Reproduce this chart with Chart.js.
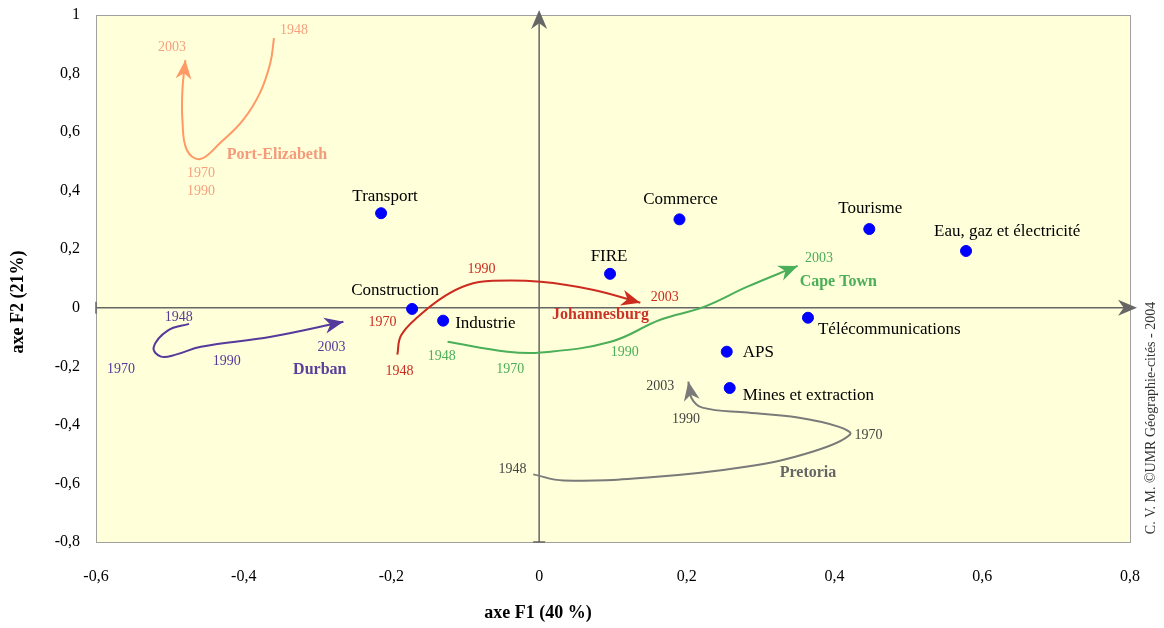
<!DOCTYPE html>
<html>
<head>
  <title>AFC villes sud-africaines</title>
  <script src="https://cdn.jsdelivr.net/npm/chart.js"></script>
  <style>
    body { margin: 0; background: #fff; }
    #wrap { width: 1164px; height: 628px; }
  </style>
</head>
<body>
  <div id="wrap"><canvas id="myChart" width="1164" height="628"></canvas></div>

  <script>
    // Secteurs (points bleus)
    var secteurs = ['Transport', 'Commerce', 'Tourisme', 'Eau, gaz et électricité', 'FIRE',
                    'Construction', 'Industrie', 'Télécommunications', 'APS', 'Mines et extraction'];
    var secteursF1 = [-0.214, 0.190, 0.447, 0.578, 0.096, -0.172, -0.130, 0.364, 0.254, 0.258];
    var secteursF2 = [0.323, 0.302, 0.269, 0.194, 0.116, -0.004, -0.044, -0.034, -0.150, -0.274];

    // Trajectoires des villes 1948 -> 2003
    var portElizabeth = [[-0.359, 0.921], [-0.364, 0.836], [-0.378, 0.734], [-0.401, 0.641],
                         [-0.432, 0.563], [-0.459, 0.508], [-0.477, 0.539], [-0.483, 0.641],
                         [-0.483, 0.744], [-0.479, 0.846]];
    var durban = [[-0.474, -0.055], [-0.503, -0.078], [-0.522, -0.136], [-0.512, -0.167],
                  [-0.492, -0.160], [-0.458, -0.133], [-0.363, -0.099], [-0.265, -0.048]];
    var johannesburg = [[-0.192, -0.160], [-0.187, -0.095], [-0.164, -0.031], [-0.129, 0.038],
                        [-0.097, 0.078], [-0.063, 0.092], [0.002, 0.089], [0.074, 0.061], [0.137, 0.017]];
    var capeTown = [[-0.124, -0.116], [-0.043, -0.150], [0.002, -0.153], [0.097, -0.116],
                    [0.164, -0.041], [0.223, 0.003], [0.282, 0.072], [0.350, 0.143]];
    var pretoria = [[-0.008, -0.569], [0.033, -0.590], [0.147, -0.580], [0.282, -0.542],
                    [0.371, -0.491], [0.421, -0.433], [0.405, -0.406], [0.350, -0.375],
                    [0.282, -0.358], [0.221, -0.341], [0.206, -0.307], [0.202, -0.252]];

    // Etiquettes des années
    var annees = ['1948', '1970', '1990', '2003'];

    // Couleurs des villes
    var villes = [
      { nom: 'Port-Elizabeth', pts: portElizabeth, ligne: '#FF9966', texte: '#F7A07E', nomTexte: '#F59A7A' },
      { nom: 'Durban', pts: durban, ligne: '#55399B', texte: '#55399B', nomTexte: '#5A3F9C' },
      { nom: 'Johannesburg', pts: johannesburg, ligne: '#CC2B1F', texte: '#CC2B1F', nomTexte: '#CC3328' },
      { nom: 'Cape Town', pts: capeTown, ligne: '#4BAE58', texte: '#4BAE58', nomTexte: '#4BAE58' },
      { nom: 'Pretoria', pts: pretoria, ligne: '#7A7A7A', texte: '#444444', nomTexte: '#666666' }
    ];

    // Placement des annotations (coordonnées dans le plan factoriel), ordre : 1948, 1970, 1990, 2003, nom
    var placements = {
      'Port-Elizabeth': [[-0.332, 0.948], [-0.458, 0.460], [-0.458, 0.399], [-0.497, 0.890], [-0.355, 0.522]],
      'Durban':         [[-0.488, -0.034], [-0.566, -0.211], [-0.423, -0.184], [-0.281, -0.136], [-0.297, -0.211]],
      'Johannesburg':   [[-0.189, -0.218], [-0.212, -0.051], [-0.078, 0.133], [0.170, 0.034], [0.083, -0.024]],
      'Cape Town':      [[-0.132, -0.167], [-0.039, -0.211], [0.116, -0.153], [0.379, 0.170], [0.405, 0.089]],
      'Pretoria':       [[-0.036, -0.552], [0.446, -0.436], [0.199, -0.382], [0.164, -0.269], [0.364, -0.563]]
    };

    // Décalage des étiquettes des secteurs (en pixels)
    var decalages = [
      [4, -17, 'center'], [1, -20, 'center'], [1, -20, 'center'], [-32, -19, 'left'], [-1, -17, 'center'],
      [-17, -18, 'center'], [12, 3, 'left'], [10, 12, 'left'], [16, 1, 'left'], [13, 8, 'left']
    ];

    var serif = '"Liberation Serif", "Times New Roman", serif';

    function virgule(v) {
      var r = Math.round(v * 10) / 10;
      if (r === 0) return '0';
      return String(r).replace('.', ',');
    }

    function fleche(ctx, x0, y0, x1, y1, couleur) {
      var a = Math.atan2(y1 - y0, x1 - x0);
      var L = 19, W = 8;
      ctx.save();
      ctx.translate(x1, y1);
      ctx.rotate(a);
      ctx.fillStyle = couleur;
      ctx.beginPath();
      ctx.moveTo(0, 0);
      ctx.lineTo(-L, -W);
      ctx.lineTo(-L * 0.7, 0);
      ctx.lineTo(-L, W);
      ctx.closePath();
      ctx.fill();
      ctx.restore();
    }

    var decor = {
      id: 'decor',
      beforeDraw: function(chart) {
        var c = chart.ctx, a = chart.chartArea;
        c.save();
        c.fillStyle = '#FFFFDA';
        c.fillRect(a.left, a.top, a.right - a.left, a.bottom - a.top);
        c.strokeStyle = '#A0A0A0';
        c.lineWidth = 1;
        c.strokeRect(a.left + 0.5, a.top + 0.5, a.right - a.left, a.bottom - a.top);
        c.restore();
      },
      beforeDatasetsDraw: function(chart) {
        var c = chart.ctx, a = chart.chartArea;
        var x0 = chart.scales.x.getPixelForValue(0);
        var y0 = chart.scales.y.getPixelForValue(0);
        c.save();
        c.strokeStyle = '#666';
        c.lineWidth = 1.5;
        c.beginPath();
        c.moveTo(x0, a.bottom); c.lineTo(x0, a.top - 2);
        c.moveTo(a.left, y0); c.lineTo(a.right - 4, y0);
        // petites marques
        c.moveTo(a.left, y0 - 6); c.lineTo(a.left, y0 + 6);
        c.moveTo(x0 - 6, a.bottom); c.lineTo(x0 + 6, a.bottom);
        c.moveTo(x0 - 6, y0); c.lineTo(x0 + 6, y0);
        c.moveTo(x0, y0 - 6); c.lineTo(x0, y0 + 6);
        c.stroke();
        c.restore();
        fleche(c, x0, a.bottom, x0, a.top - 5, '#666');
        fleche(c, a.left, y0, a.right + 7, y0, '#666');
      },
      afterDatasetsDraw: function(chart) {
        var c = chart.ctx;
        var sx = chart.scales.x, sy = chart.scales.y;
        c.save();
        // flèches de fin de trajectoire
        villes.forEach(function(v) {
          var n = v.pts.length;
          fleche(c, sx.getPixelForValue(v.pts[n - 2][0]), sy.getPixelForValue(v.pts[n - 2][1]),
                 sx.getPixelForValue(v.pts[n - 1][0]), sy.getPixelForValue(v.pts[n - 1][1]), v.ligne);
        });
        c.textBaseline = 'middle';
        // années et noms de villes
        villes.forEach(function(v) {
          var p = placements[v.nom];
          c.textAlign = 'center';
          c.font = '14px ' + serif;
          c.fillStyle = v.texte;
          annees.forEach(function(an, i) {
            c.fillText(an, sx.getPixelForValue(p[i][0]), sy.getPixelForValue(p[i][1]));
          });
          c.font = 'bold 16px ' + serif;
          c.fillStyle = v.nomTexte;
          c.fillText(v.nom, sx.getPixelForValue(p[4][0]), sy.getPixelForValue(p[4][1]));
        });
        // noms des secteurs
        c.font = '17px ' + serif;
        c.fillStyle = '#000';
        secteurs.forEach(function(s, i) {
          var d = decalages[i];
          c.textAlign = d[2];
          c.fillText(s, sx.getPixelForValue(secteursF1[i]) + d[0], sy.getPixelForValue(secteursF2[i]) + d[1]);
        });
        c.restore();
      },
      afterDraw: function(chart) {
        var c = chart.ctx;
        c.save();
        c.fillStyle = '#000';
        c.textAlign = 'center';
        c.textBaseline = 'middle';
        c.font = 'bold 18px ' + serif;
        c.fillText('axe F1 (40 %)', 538, 613);
        c.translate(18, 302);
        c.rotate(-Math.PI / 2);
        c.fillText('axe F2 (21%)', 0, 0);
        c.restore();
        c.save();
        c.fillStyle = '#333';
        c.textAlign = 'center';
        c.textBaseline = 'middle';
        c.font = '14px ' + serif;
        c.translate(1151, 418);
        c.rotate(-Math.PI / 2);
        c.fillText('C. V. M. ©UMR Géographie-cités - 2004', 0, 0);
        c.restore();
      }
    };

    var datasets = villes.map(function(v) {
      return {
        label: v.nom,
        data: v.pts.map(function(p) { return { x: p[0], y: p[1] }; }),
        showLine: true,
        borderColor: v.ligne,
        borderWidth: 2,
        tension: 0.4,
        pointRadius: 0,
        fill: false
      };
    });
    datasets.push({
      label: 'Secteurs',
      data: secteursF1.map(function(x, i) { return { x: x, y: secteursF2[i] }; }),
      backgroundColor: '#0000FF',
      borderColor: '#0000FF',
      pointRadius: 5.5,
      showLine: false
    });

    var ctx = document.getElementById('myChart').getContext('2d');
    var myChart = new Chart(ctx, {
      type: 'scatter',
      data: { datasets: datasets },
      plugins: [decor],
      options: {
        responsive: false,
        animation: false,
        layout: { padding: { left: 0, right: 34, top: 15, bottom: 0 } },
        plugins: { legend: { display: false }, tooltip: { enabled: false } },
        scales: {
          x: {
            type: 'linear', min: -0.6, max: 0.8,
            grid: { display: false, drawTicks: false },
            border: { display: false },
            afterFit: function(s) { s.height = 86; s.paddingLeft = 0; s.paddingRight = 0; },
            ticks: { stepSize: 0.2, padding: 25, color: '#000', font: { family: serif, size: 16 },
                     callback: virgule }
          },
          y: {
            type: 'linear', min: -0.8, max: 1,
            grid: { display: false, drawTicks: false },
            border: { display: false },
            afterFit: function(s) { s.width = 96; s.paddingTop = 0; s.paddingBottom = 0; },
            ticks: { stepSize: 0.2, padding: 16, color: '#000', font: { family: serif, size: 16 },
                     callback: virgule }
          }
        }
      }
    });
  </script>
</body>
</html>
